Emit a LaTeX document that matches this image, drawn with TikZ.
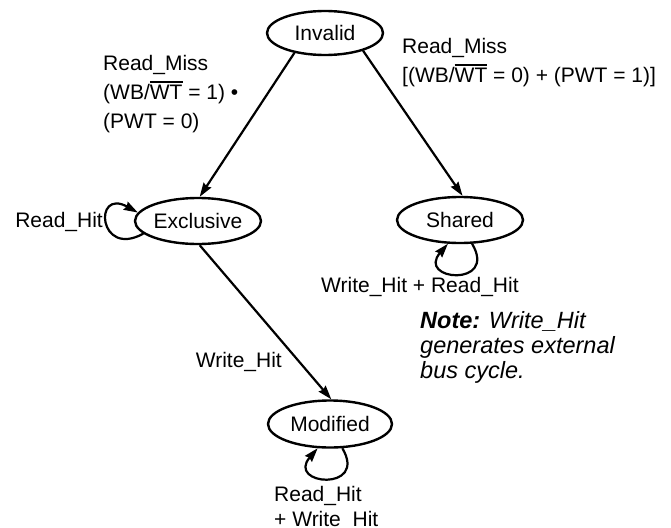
\documentclass[tikz,border=0pt]{standalone}
\usepackage{fontspec}
\setmainfont{Liberation Sans}
\usetikzlibrary{shapes.geometric,arrows.meta}
\newcommand{\ovl}[1]{\leavevmode\setbox0\hbox{#1}\rlap{\raisebox{\dimexpr\ht0+2pt\relax}{\rule{\wd0}{1.8pt}}}\box0\relax}
\begin{document}
\begin{tikzpicture}[x=1pt,y=-1pt,
  state/.style={ellipse, draw, line width=2.4pt, inner sep=0pt, font=\fontsize{21}{24}\selectfont},
  lbl/.style={font=\fontsize{21}{29}\selectfont, align=left, inner sep=0pt},
  trans/.style={line width=2.2pt, -{Stealth[length=14pt,width=9pt,inset=1.5pt]}},
]
\useasboundingbox (0,0) rectangle (671,527);
\clip (0,0) rectangle (671,527);
\node[state, minimum width=116pt, minimum height=44pt] (inv) at (325,33) {Invalid};
\node[state, minimum width=126pt, minimum height=46pt] (exc) at (198,221) {Exclusive};
\node[state, minimum width=126pt, minimum height=46pt] (sh) at (460,220) {Shared};
\node[state, minimum width=124pt, minimum height=47pt] (mod) at (330,424) {Modified};

\draw[trans] (inv.213) -- (exc.86);
\draw[trans] (inv.-25) -- (sh.84);
\draw[trans] (exc.-86) -- (mod.87);

\draw[trans] (exc.193) .. controls +(-45,25) and +(-45,-25) .. (exc.172);
\draw[trans] (sh.-63) .. controls +(26,44) and +(-32,37) .. (sh.-117);
\draw[trans] (mod.-63) .. controls +(26,44) and +(-32,37) .. (mod.-117);

\node[lbl, anchor=west] (l1) at (103,94) {Read\_Miss\\(WB/\ovl{WT} = 1) \textbullet\\(PWT = 0)};
\node[lbl, anchor=west] (l2) at (402,62.5) {Read\_Miss\\{[}(WB/\ovl{WT} = 0) + (PWT = 1)]};
\node[lbl, anchor=east] (l3) at (103,222) {Read\_Hit};
\node[lbl, anchor=west] (l4) at (321,287) {Write\_Hit + Read\_Hit};
\node[lbl, anchor=east] (l5) at (282,362) {Write\_Hit};
\node[lbl, anchor=west, font=\fontsize{21}{25}\selectfont] (l6) at (274,508) {Read\_Hit\\+ Write\_Hit};
\node[anchor=west, align=left, inner sep=0pt, font=\fontsize{23.5}{25}\selectfont\itshape] (note) at (420,347) {\textbf{Note:} Write\_Hit\\generates external\\bus cycle.};
\end{tikzpicture}
\end{document}
